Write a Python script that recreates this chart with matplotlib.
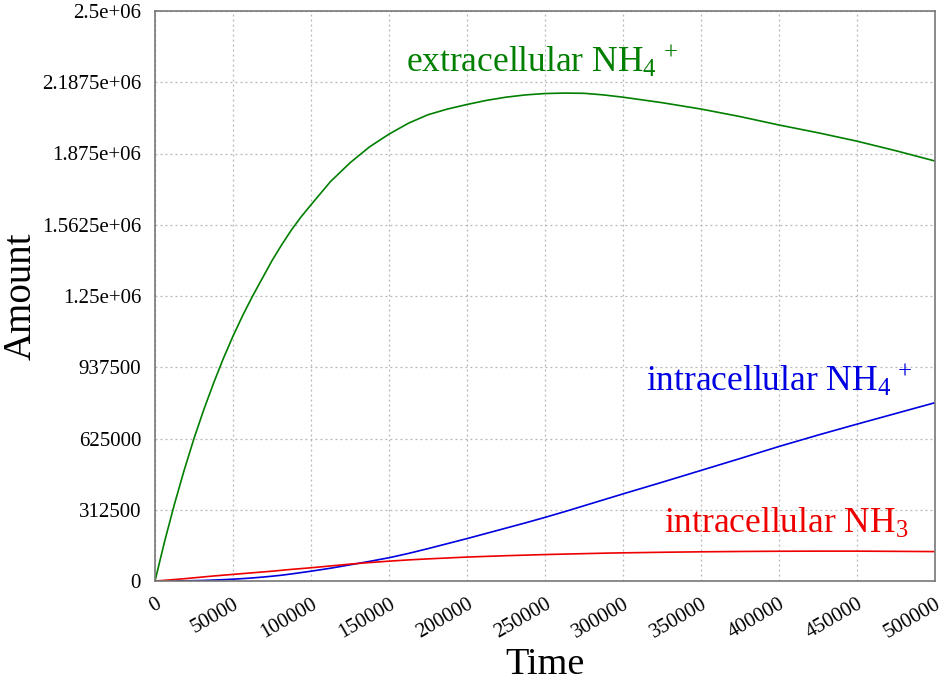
import numpy as np
import matplotlib
matplotlib.use("Agg")
import matplotlib.pyplot as plt
from matplotlib.ticker import FormatStrFormatter

plt.rcParams['font.family'] = ['Liberation Serif', 'DejaVu Serif']
plt.rcParams['mathtext.fontset'] = 'custom'
plt.rcParams['mathtext.rm'] = 'Liberation Serif'
plt.rcParams['mathtext.it'] = 'Liberation Serif:italic'

# values
time = [0, 6250, 12500, 18750, 25000, 31250, 37500, 43750, 50000, 56250,
        62500, 68750, 75000, 81250, 87500, 93750, 100000,
        112500, 125000, 137500, 150000, 162500, 175000, 187500, 200000,
        212500, 225000, 237500, 250000, 262500, 275000, 287500, 300000,
        325000, 350000, 375000, 400000, 425000, 450000, 475000, 500000]
extra_nh4 = [0, 176000, 338000, 487000, 625000, 751000, 867000, 975000, 1074000, 1165000,
             1249000, 1327000, 1405000, 1475000, 1540000, 1598000, 1650000,
             1752000, 1834000, 1904000, 1960000, 2008000, 2045000, 2070000, 2090000,
             2108000, 2122000, 2132000, 2138000, 2140000, 2139000, 2132000, 2122000,
             2098000, 2070000, 2037000, 2000000, 1966000, 1929000, 1887000, 1842000]
intra_nh4 = [0, 0, 300, 800, 1500, 2500, 4000, 5800, 8000, 10500,
             13500, 17000, 21000, 25500, 31000, 37000, 43000,
             56000, 71000, 86000, 102000, 121000, 142000, 164000, 186000,
             209000, 232000, 255000, 279000, 304000, 330000, 356000, 382000,
             433000, 485000, 537000, 590000, 640000, 688000, 735000, 782000]
intra_nh3 = [0, 3000, 6500, 10000, 14000, 18000, 22000, 25500, 29000, 32500,
             36000, 39500, 43000, 47000, 51000, 54500, 58000,
             66000, 74000, 81000, 87000, 92500, 97000, 101000, 105000,
             108000, 111000, 113500, 116000, 118000, 120000, 122000, 123500,
             126000, 128000, 129500, 130500, 131000, 131000, 130000, 129000]

xticks = np.arange(0, 500001, 50000)
yticks = np.arange(0, 2500001, 312500)

fig = plt.figure(figsize=(9.48, 6.83), dpi=100)
ax = fig.add_axes([155/948, 102/683, 780/948, 570/683])

ax.plot(time, extra_nh4, color='#007f00', lw=1.2)
ax.plot(time, intra_nh4, color='#0000e0', lw=1.2)
ax.plot(time, intra_nh3, color='#ee0000', lw=1.2)

ax.set_xlim(0, 500000)
ax.set_ylim(0, 2500000)
ax.set_xticks(xticks)
ax.set_yticks(yticks)
ax.xaxis.set_major_formatter(FormatStrFormatter('%g'))
ax.yaxis.set_major_formatter(FormatStrFormatter('%g'))
ax.tick_params(length=0, labelsize=15, pad=10)
plt.setp(ax.get_xticklabels(), rotation=30, ha='right', rotation_mode='anchor')
ax.grid(True, color='#b5b5b5', linestyle=(0, (1.5, 2.5)), lw=0.9)
for s in ax.spines.values():
    s.set_color('#777777')
    s.set_linewidth(1.2)

ax.set_xlabel('Time', fontsize=27.5)
ax.xaxis.set_label_coords(0.5, -0.116)
ax.set_ylabel('Amount', fontsize=28)
ax.yaxis.set_label_coords(-0.148, 0.5)

ax.text(161000, 2235000, r'extracellular NH$_4{}^{\,+}$', color='#007f00', fontsize=25.5)
ax.text(315000, 835000, r'intracellular NH$_4{}^{\,+}$', color='#0000e0', fontsize=25.5)
ax.text(326000, 210000, r'intracellular NH$_3$', color='#ee0000', fontsize=25.5)

fig.savefig('out.png', dpi=100)
